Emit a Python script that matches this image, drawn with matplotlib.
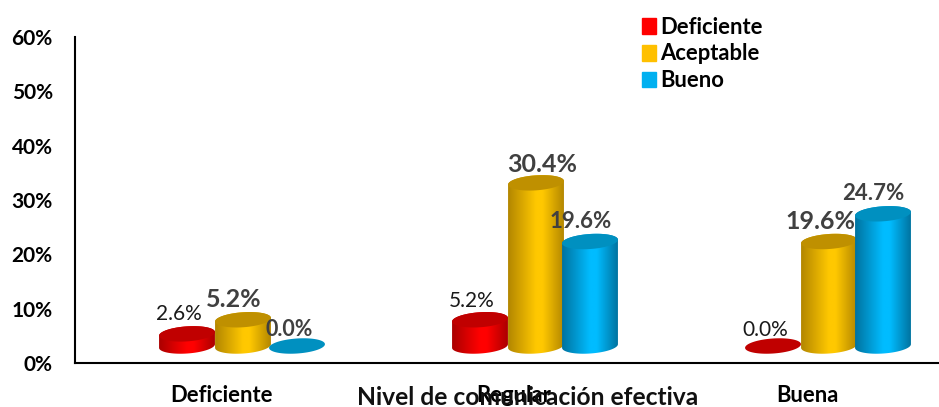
import matplotlib
matplotlib.use('Agg')
import matplotlib.pyplot as plt
import numpy as np
from matplotlib.colors import LinearSegmentedColormap
from matplotlib.patches import Patch, Polygon

plt.rcParams['font.family'] = ['Lato', 'DejaVu Sans']

categories = ['Deficiente', 'Regular', 'Buena']
series_names = ['Deficiente', 'Aceptable', 'Bueno']
deficiente = [2.6, 5.2, 0.0]
aceptable = [5.2, 30.4, 19.6]
bueno = [0.0, 19.6, 24.7]
yticks = [0, 10, 20, 30, 40, 50, 60]

# legend colour, dark edge, bright centre, top ellipse
colors = {
    'Deficiente': ('#ff0000', '#a80000', '#ff0000', '#c00000'),
    'Aceptable': ('#ffc000', '#b08400', '#ffc800', '#bf9000'),
    'Bueno': ('#00b0f0', '#00709c', '#00bcff', '#0090c0'),
}

# label style per series and category: dx px, dy px, size, weight, colour
dark = '#1a1a1a'
grey = '#404040'
label_styles = [
    [(-8, 20, 15, 'normal', dark), (-8, 19, 15, 'normal', dark), (-8, 16, 15, 'normal', dark)],
    [(-9, 20, 18, 'bold', grey), (6, 18, 18, 'bold', grey), (-9, 20, 18, 'bold', grey)],
    [(-8, 16, 15.5, 'bold', grey), (-9, 20, 16, 'bold', grey), (-10, 20, 16, 'bold', grey)],
]

W, H = 939, 407
LEFT, RIGHT, TOP, BOTTOM = 75, 939, 37, 363
UX = 1 / 293.0          # data x units per px
UY = 60.0 / (BOTTOM - TOP)  # data y units per px
X0 = -(221 - LEFT) * UX
BASE = 15 * UY          # bars float above the axis (fake depth)
FOOT = 17 * UY          # centre of the bottom ellipse
SHIFT = 22 * UX         # bars sit right of the tick
OFFSETS = np.array([-56, 0, 54]) * UX
RX, RY = 28, 7.5        # ellipse radii px
TILT = np.deg2rad(4)


def ellipse(cx, cy, start=0, stop=2 * np.pi):
    t = np.linspace(start, stop, 80)
    px = RX * np.cos(t)
    py = RY * np.sin(t)
    xs = cx + (px * np.cos(TILT) - py * np.sin(TILT)) * UX
    ys = cy + (px * np.sin(TILT) + py * np.cos(TILT)) * UY
    return np.column_stack([xs, ys])


def bar_top(value):
    return BASE + value if value > 0 else FOOT


def cylinder(ax, cx, value, name, z):
    legend_c, edge, bright, top_c = colors[name]
    y1 = bar_top(value)
    if value > 0:
        outline = np.vstack([ellipse(cx, FOOT, np.pi, 2 * np.pi), ellipse(cx, y1, 0, np.pi)])
        body = Polygon(outline, closed=True, transform=ax.transData, fc='none', ec='none')
        ax.add_patch(body)
        cmap = LinearSegmentedColormap.from_list(name, [(0, edge), (0.5, bright), (0.62, bright), (1, edge)])
        grad = np.linspace(0, 1, 128).reshape(1, -1)
        im = ax.imshow(grad, cmap=cmap, aspect='auto', zorder=z,
                       extent=(cx - RX * UX * 1.02, cx + RX * UX * 1.02, FOOT - 2, y1 + 3))
        im.set_clip_path(body)
    ax.add_patch(Polygon(ellipse(cx, y1), closed=True, fc=top_c, ec='none', zorder=z + 0.1))


fig = plt.figure(figsize=(W / 100, H / 100), dpi=100)
ax = fig.add_axes([LEFT / W, 1 - BOTTOM / H, (RIGHT - LEFT) / W, (BOTTOM - TOP) / H])

all_series = [deficiente, aceptable, bueno]
x = np.arange(len(categories))
z = 3
for c in x:
    for s, values in enumerate(all_series):
        cx = c + SHIFT + OFFSETS[s]
        cylinder(ax, cx, values[c], series_names[s], z)
        z += 1

# labels go on top of every bar
for s, values in enumerate(all_series):
    for c in x:
        dx, dy, size, weight, col = label_styles[s][c]
        ax.annotate('{:.1f}%'.format(values[c]),
                    xy=(c + SHIFT + OFFSETS[s], bar_top(values[c])),
                    xytext=(dx * 0.72, dy * 0.72), textcoords='offset points',
                    ha='center', va='center', fontsize=size, fontweight=weight,
                    color=col, zorder=50)

ax.set_xlim(X0, X0 + (RIGHT - LEFT) * UX)
ax.set_ylim(0, 60)
ax.set_yticks(yticks)
ax.set_yticklabels(['{}%'.format(v) for v in yticks], fontsize=15, fontweight='bold')
ax.set_xticks(x)
ax.set_xticklabels(categories, fontsize=15.8, fontweight='bold')
ax.tick_params(axis='y', length=0, pad=16)
ax.tick_params(axis='x', length=0, pad=16)
ax.spines['top'].set_visible(False)
ax.spines['right'].set_visible(False)
ax.spines['left'].set_linewidth(1.5)
ax.spines['bottom'].set_linewidth(1.5)

fig.text(528 / W, 1 - 397.5 / H, 'Nivel de comunicación efectiva', ha='center', va='center',
         fontsize=17.7, fontweight='bold', color='#111111', zorder=60)

handles = [Patch(color=colors[n][0], label=n) for n in series_names]
fig.legend(handles=handles, loc='upper left', bbox_to_anchor=(622 / W, 1 + 3 / H),
           frameon=False, prop={'size': 15.8, 'weight': 'bold'}, handlelength=0.66,
           handleheight=0.72, handletextpad=0.2, labelspacing=0.26)

fig.savefig('out.png', dpi=100)
